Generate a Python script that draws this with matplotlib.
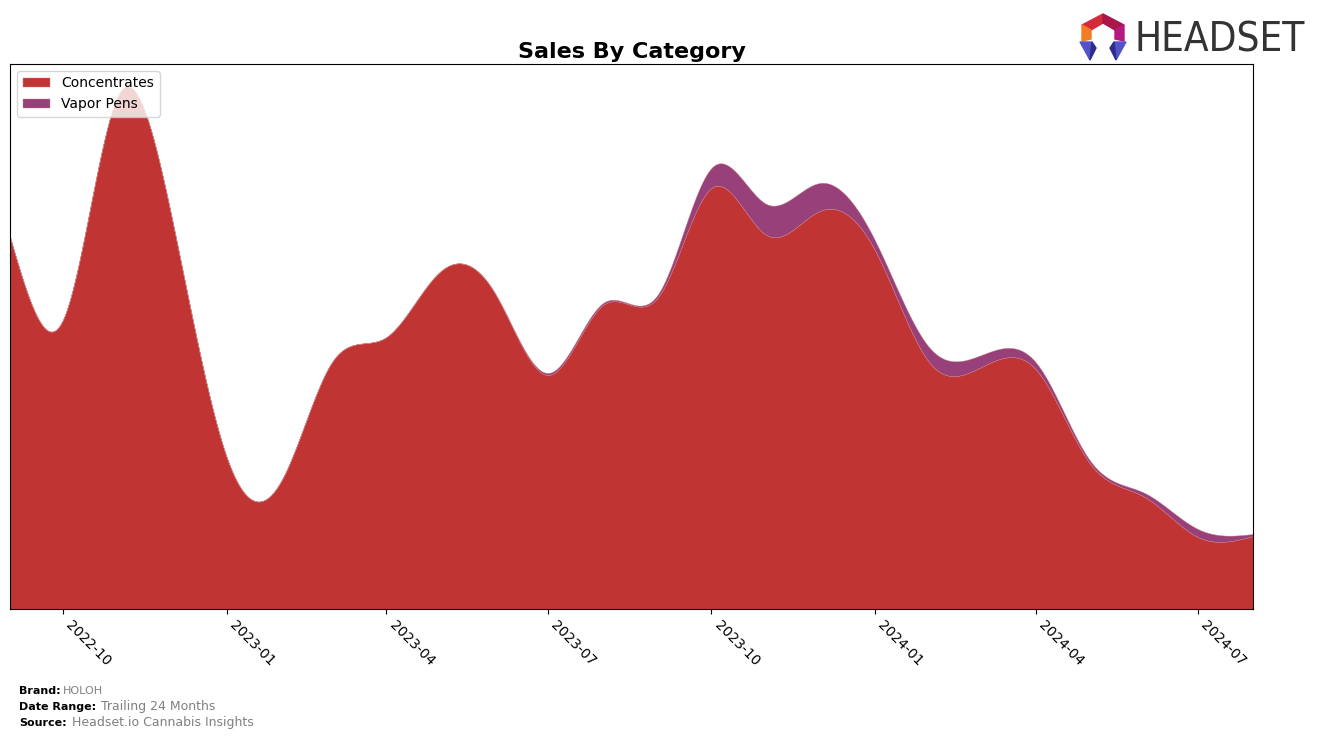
import numpy as np
import pandas as pd
import matplotlib
matplotlib.use("Agg")
import matplotlib.pyplot as plt
import matplotlib.dates as mdates
from matplotlib.patches import Polygon

# monthly sales (relative units)
months = pd.date_range("2022-09-01", "2024-08-01", freq="MS")
concentrates = [372, 290, 514, 392, 152, 129, 246, 272, 337, 316, 234, 304,
                312, 421, 374, 398, 359, 246, 242, 239, 146, 112, 72, 73]
vapor_pens = [0, 0, 0, 0, 0, 0, 0, 0, 0, 0, 2, 2,
              3, 20, 31, 28, 10, 15, 12, 7, 3, 4, 8, 2]
tick_labels = ["2022-10", "2023-01", "2023-04", "2023-07",
               "2023-10", "2024-01", "2024-04", "2024-07"]


def cubic_spline(x, y, xs):
    # natural cubic spline, solved directly
    x = np.asarray(x, float)
    y = np.asarray(y, float)
    n = len(x)
    h = np.diff(x)
    A = np.zeros((n, n))
    b = np.zeros(n)
    A[0, 0] = 1
    A[-1, -1] = 1
    for i in range(1, n - 1):
        A[i, i - 1] = h[i - 1]
        A[i, i] = 2 * (h[i - 1] + h[i])
        A[i, i + 1] = h[i]
        b[i] = 6 * ((y[i + 1] - y[i]) / h[i] - (y[i] - y[i - 1]) / h[i - 1])
    M = np.linalg.solve(A, b)
    idx = np.clip(np.searchsorted(x, xs) - 1, 0, n - 2)
    x0, x1 = x[idx], x[idx + 1]
    hh = x1 - x0
    t0, t1 = x1 - xs, xs - x0
    return (M[idx] * t0**3 / (6 * hh) + M[idx + 1] * t1**3 / (6 * hh)
            + (y[idx] / hh - M[idx] * hh / 6) * t0
            + (y[idx + 1] / hh - M[idx + 1] * hh / 6) * t1)


xnum = mdates.date2num(months)
xs = np.linspace(xnum[0], xnum[-1], 1500)
conc_s = np.clip(cubic_spline(xnum, concentrates, xs), 0, None)
vape_s = np.clip(cubic_spline(xnum, vapor_pens, xs), 0, None)

fig = plt.figure(figsize=(13.17, 7.38), dpi=100)
ax = fig.add_axes([0.0076, 0.1748, 0.9438, 0.7385])

ax.stackplot(xs, conc_s, vape_s, colors=["#c13434", "#974079"],
             labels=["Concentrates", "Vapor Pens"], linewidth=0.3,
             edgecolor="#d08080")
ax.set_xlim(xnum[0], xnum[-1])
ax.set_ylim(0, 545)
ax.set_yticks([])
ax.set_xticks(mdates.date2num(pd.to_datetime(tick_labels)))
ax.set_xticklabels(tick_labels, rotation=-45, ha="left", fontsize=10)
ax.set_title("Sales By Category", fontsize=16, fontweight="bold", pad=4)
ax.legend(loc="upper left", fontsize=10)

# footer
fig.text(0.0144, 0.0595, "Brand:", fontsize=8, fontweight="bold")
fig.text(0.048, 0.0595, "HOLOH", fontsize=8, color="gray")
fig.text(0.0144, 0.0378, "Date Range:", fontsize=8, fontweight="bold")
fig.text(0.077, 0.0378, "Trailing 24 Months", fontsize=9, color="gray")
fig.text(0.0144, 0.016, "Source:", fontsize=8, fontweight="bold")
fig.text(0.0547, 0.016, "Headset.io Cannabis Insights", fontsize=9, color="gray")

# logo
lax = fig.add_axes([1078 / 1317, 1 - 62 / 738, 50 / 1317, 50 / 738])
lax.set_xlim(0, 50)
lax.set_ylim(0, 50)
lax.axis("off")
logo_parts = [
    ([(4, 37), (25, 48), (25, 39), (13, 32)], "#d42a3c"),
    ([(25, 48), (46, 37), (37, 32), (25, 39)], "#a8164a"),
    ([(46, 37), (46, 21), (37, 23), (37, 32)], "#b5187f"),
    ([(4, 37), (13, 32), (13, 23), (4, 21)], "#f47c22"),
    ([(2, 20), (14, 20), (12, 2)], "#5452c8"),
    ([(14, 20), (18, 14), (12, 2)], "#2e2c8c"),
    ([(36, 20), (48, 20), (38, 2)], "#5452c8"),
    ([(32, 14), (36, 20), (38, 2)], "#2e2c8c"),
]
for pts, col in logo_parts:
    lax.add_patch(Polygon(pts, closed=True, color=col))
fig.text(1134 / 1317, 1 - 40 / 738, "HEADSET", fontsize=29, color="#333333",
         va="center", ha="left", stretch="condensed")

fig.savefig("out.png", dpi=100)
